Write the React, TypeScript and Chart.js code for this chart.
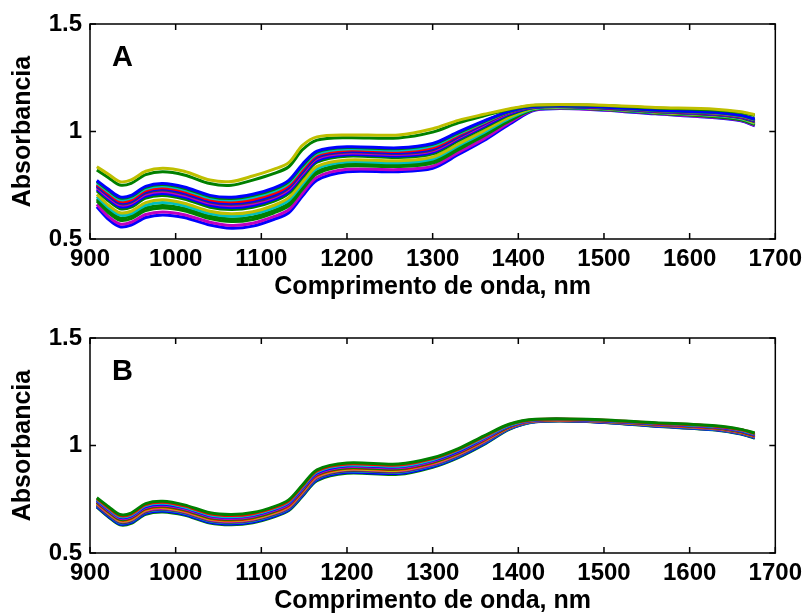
import React, { useEffect, useRef } from 'react';
import { Chart, registerables } from 'chart.js';

Chart.register(...registerables);

const FONT = "'Liberation Sans', Arial, Helvetica, sans-serif";

const BLUE = '#0000ff';
const GREEN = '#008000';
const RED = '#ff0000';
const CYAN = '#00bfbf';
const MAGENTA = '#bf00bf';
const OLIVE = '#bfbf00';
const GRAY = '#404040';

const X_TITLE = 'Comprimento de onda, nm';
const Y_TITLE = 'Absorbancia';
const X_TICKS = [900, 1000, 1100, 1200, 1300, 1400, 1500, 1600, 1700];
const Y_TICKS = [0.5, 1, 1.5];

const WAVELENGTH = [908, 922, 935, 948, 965, 985, 1010, 1040, 1065, 1090, 1115, 1132, 1148, 1165, 1200, 1260, 1300, 1330, 1360, 1390, 1420, 1480, 1560, 1630, 1660, 1676];

// Panel A (raw spectra)
const a01 = [0.836, 0.800, 0.767, 0.775, 0.815, 0.829, 0.815, 0.774, 0.767, 0.793, 0.825, 0.855, 0.935, 0.975, 0.984, 0.984, 1.013, 1.052, 1.080, 1.106, 1.123, 1.124, 1.112, 1.104, 1.092, 1.078];
const a02 = [0.821, 0.784, 0.751, 0.759, 0.799, 0.813, 0.798, 0.758, 0.750, 0.774, 0.805, 0.836, 0.915, 0.960, 0.971, 0.970, 0.997, 1.040, 1.073, 1.103, 1.122, 1.123, 1.109, 1.100, 1.088, 1.074];
const a03 = [0.772, 0.730, 0.696, 0.703, 0.745, 0.758, 0.742, 0.703, 0.694, 0.708, 0.738, 0.773, 0.848, 0.909, 0.929, 0.924, 0.944, 0.998, 1.049, 1.095, 1.117, 1.118, 1.100, 1.089, 1.075, 1.058];
const a04 = [0.768, 0.725, 0.691, 0.698, 0.740, 0.753, 0.736, 0.698, 0.688, 0.702, 0.731, 0.767, 0.841, 0.904, 0.925, 0.920, 0.940, 0.994, 1.046, 1.094, 1.117, 1.117, 1.099, 1.088, 1.074, 1.057];
const a05 = [0.761, 0.718, 0.683, 0.691, 0.733, 0.746, 0.729, 0.690, 0.681, 0.694, 0.723, 0.759, 0.833, 0.897, 0.919, 0.913, 0.933, 0.989, 1.043, 1.093, 1.116, 1.117, 1.098, 1.086, 1.072, 1.055];
const a06 = [0.754, 0.710, 0.675, 0.682, 0.725, 0.738, 0.721, 0.682, 0.673, 0.684, 0.713, 0.750, 0.823, 0.890, 0.913, 0.907, 0.925, 0.983, 1.040, 1.092, 1.116, 1.116, 1.097, 1.084, 1.070, 1.053];
const a07 = [0.749, 0.704, 0.669, 0.676, 0.719, 0.732, 0.714, 0.676, 0.666, 0.677, 0.705, 0.743, 0.815, 0.884, 0.908, 0.901, 0.919, 0.978, 1.037, 1.091, 1.115, 1.115, 1.096, 1.083, 1.069, 1.051];
const a08 = [0.745, 0.700, 0.665, 0.672, 0.715, 0.728, 0.710, 0.672, 0.662, 0.672, 0.700, 0.738, 0.810, 0.880, 0.905, 0.898, 0.915, 0.975, 1.035, 1.090, 1.115, 1.115, 1.095, 1.082, 1.068, 1.050];
const a09 = [0.739, 0.693, 0.659, 0.666, 0.708, 0.721, 0.703, 0.666, 0.655, 0.665, 0.694, 0.731, 0.803, 0.874, 0.899, 0.893, 0.910, 0.970, 1.030, 1.087, 1.114, 1.114, 1.094, 1.081, 1.067, 1.049];
const a10 = [0.732, 0.685, 0.650, 0.657, 0.699, 0.712, 0.695, 0.657, 0.646, 0.656, 0.685, 0.722, 0.795, 0.865, 0.892, 0.886, 0.903, 0.964, 1.024, 1.082, 1.113, 1.113, 1.093, 1.079, 1.065, 1.047];
const a11 = [0.724, 0.676, 0.641, 0.648, 0.690, 0.702, 0.686, 0.648, 0.637, 0.647, 0.676, 0.712, 0.786, 0.857, 0.885, 0.879, 0.896, 0.957, 1.018, 1.078, 1.112, 1.113, 1.092, 1.078, 1.064, 1.045];
const a12 = [0.707, 0.656, 0.622, 0.629, 0.669, 0.682, 0.666, 0.629, 0.617, 0.627, 0.657, 0.692, 0.766, 0.838, 0.868, 0.864, 0.881, 0.942, 1.004, 1.068, 1.109, 1.111, 1.090, 1.075, 1.061, 1.040];
const a13 = [0.697, 0.645, 0.611, 0.618, 0.657, 0.670, 0.655, 0.618, 0.606, 0.616, 0.646, 0.680, 0.755, 0.827, 0.859, 0.855, 0.872, 0.934, 0.996, 1.062, 1.107, 1.109, 1.088, 1.073, 1.059, 1.038];
const a14 = [0.686, 0.632, 0.598, 0.606, 0.644, 0.656, 0.642, 0.606, 0.593, 0.603, 0.633, 0.666, 0.742, 0.814, 0.848, 0.845, 0.862, 0.924, 0.987, 1.056, 1.106, 1.108, 1.087, 1.071, 1.057, 1.035];
const a15 = [0.677, 0.621, 0.587, 0.595, 0.632, 0.644, 0.631, 0.595, 0.581, 0.591, 0.622, 0.654, 0.731, 0.804, 0.839, 0.837, 0.853, 0.916, 0.980, 1.050, 1.104, 1.107, 1.086, 1.069, 1.055, 1.033];
const a16 = [0.661, 0.603, 0.570, 0.578, 0.614, 0.626, 0.613, 0.578, 0.563, 0.573, 0.605, 0.636, 0.713, 0.787, 0.824, 0.823, 0.839, 0.903, 0.967, 1.042, 1.102, 1.105, 1.084, 1.066, 1.052, 1.029];
const a17 = [0.650, 0.590, 0.557, 0.565, 0.600, 0.612, 0.600, 0.565, 0.550, 0.560, 0.592, 0.622, 0.700, 0.774, 0.813, 0.813, 0.829, 0.893, 0.958, 1.035, 1.100, 1.104, 1.082, 1.064, 1.050, 1.026];

const SERIES_A = [a01, a02, a03, a04, a05, a06, a07, a08, a09, a10, a11, a12, a13, a14, a15, a16, a17];
const COLORS_A = [OLIVE, GREEN, BLUE, GREEN, CYAN, RED, BLUE, GRAY, MAGENTA, BLUE, GREEN, OLIVE, CYAN, GREEN, GREEN, MAGENTA, BLUE];

// Panel B (corrected spectra)
const b01 = [0.757, 0.714, 0.679, 0.686, 0.730, 0.741, 0.724, 0.687, 0.679, 0.688, 0.716, 0.747, 0.816, 0.887, 0.919, 0.914, 0.943, 0.986, 1.045, 1.100, 1.122, 1.122, 1.106, 1.092, 1.075, 1.058];
const b02 = [0.753, 0.709, 0.674, 0.681, 0.725, 0.736, 0.719, 0.682, 0.674, 0.683, 0.711, 0.742, 0.811, 0.882, 0.914, 0.909, 0.939, 0.982, 1.041, 1.098, 1.121, 1.121, 1.104, 1.090, 1.073, 1.056];
const b03 = [0.748, 0.704, 0.669, 0.676, 0.720, 0.731, 0.714, 0.677, 0.669, 0.678, 0.706, 0.737, 0.806, 0.877, 0.909, 0.904, 0.934, 0.978, 1.037, 1.095, 1.120, 1.120, 1.103, 1.088, 1.071, 1.053];
const b04 = [0.745, 0.701, 0.666, 0.673, 0.716, 0.727, 0.711, 0.674, 0.666, 0.675, 0.703, 0.733, 0.802, 0.873, 0.906, 0.901, 0.931, 0.974, 1.034, 1.093, 1.119, 1.119, 1.102, 1.087, 1.069, 1.051];
const b05 = [0.741, 0.696, 0.661, 0.668, 0.711, 0.722, 0.706, 0.669, 0.661, 0.670, 0.698, 0.728, 0.797, 0.868, 0.901, 0.896, 0.927, 0.970, 1.030, 1.091, 1.118, 1.118, 1.100, 1.085, 1.067, 1.049];
const b06 = [0.737, 0.692, 0.657, 0.664, 0.708, 0.719, 0.702, 0.665, 0.657, 0.666, 0.694, 0.725, 0.793, 0.865, 0.897, 0.892, 0.923, 0.967, 1.027, 1.089, 1.117, 1.118, 1.099, 1.083, 1.065, 1.047];
const b07 = [0.734, 0.689, 0.654, 0.661, 0.704, 0.715, 0.699, 0.662, 0.654, 0.663, 0.691, 0.721, 0.789, 0.861, 0.894, 0.889, 0.920, 0.964, 1.024, 1.087, 1.116, 1.117, 1.098, 1.081, 1.063, 1.045];
const b08 = [0.731, 0.685, 0.650, 0.657, 0.700, 0.711, 0.695, 0.658, 0.650, 0.659, 0.687, 0.717, 0.785, 0.857, 0.890, 0.885, 0.917, 0.961, 1.021, 1.086, 1.115, 1.116, 1.096, 1.080, 1.062, 1.044];
const b09 = [0.727, 0.682, 0.647, 0.654, 0.696, 0.707, 0.692, 0.655, 0.647, 0.656, 0.684, 0.713, 0.781, 0.853, 0.887, 0.882, 0.913, 0.958, 1.018, 1.084, 1.114, 1.115, 1.095, 1.078, 1.060, 1.042];
const b10 = [0.724, 0.678, 0.643, 0.650, 0.692, 0.703, 0.688, 0.651, 0.643, 0.652, 0.680, 0.709, 0.777, 0.849, 0.883, 0.878, 0.910, 0.954, 1.015, 1.082, 1.113, 1.114, 1.094, 1.077, 1.058, 1.040];
const b11 = [0.722, 0.676, 0.641, 0.648, 0.690, 0.701, 0.686, 0.649, 0.641, 0.650, 0.678, 0.707, 0.774, 0.847, 0.881, 0.876, 0.908, 0.952, 1.013, 1.081, 1.112, 1.114, 1.093, 1.076, 1.057, 1.039];
const b12 = [0.720, 0.673, 0.638, 0.645, 0.687, 0.698, 0.683, 0.646, 0.638, 0.647, 0.675, 0.704, 0.772, 0.844, 0.878, 0.873, 0.906, 0.950, 1.011, 1.080, 1.112, 1.113, 1.092, 1.075, 1.056, 1.038];
const b13 = [0.716, 0.670, 0.635, 0.642, 0.684, 0.695, 0.680, 0.643, 0.635, 0.644, 0.672, 0.701, 0.768, 0.841, 0.875, 0.870, 0.902, 0.947, 1.008, 1.078, 1.111, 1.113, 1.091, 1.073, 1.055, 1.036];
const b14 = [0.713, 0.666, 0.631, 0.638, 0.680, 0.691, 0.676, 0.639, 0.631, 0.640, 0.668, 0.697, 0.764, 0.837, 0.871, 0.866, 0.899, 0.944, 1.005, 1.076, 1.110, 1.112, 1.090, 1.072, 1.053, 1.034];

const SERIES_B = [b01, b02, b03, b04, b05, b06, b07, b08, b09, b10, b11, b12, b13, b14];
const COLORS_B = [GREEN, RED, CYAN, BLUE, MAGENTA, GREEN, RED, OLIVE, MAGENTA, GRAY, CYAN, BLUE, BLUE, GREEN];

const framePlugin = {
  id: 'frame',
  afterDatasetsDraw(chart: any, _args: any, opts: any) {
    const { ctx, chartArea, scales } = chart;
    const { left, right, top, bottom } = chartArea;
    const x = scales.x;
    const y = scales.y;
    ctx.save();
    ctx.strokeStyle = '#000';
    ctx.lineWidth = 1.5;
    ctx.strokeRect(left, top, right - left, bottom - top);
    ctx.beginPath();
    for (const v of X_TICKS) {
      const px = x.getPixelForValue(v);
      ctx.moveTo(px, bottom);
      ctx.lineTo(px, bottom - 6);
      ctx.moveTo(px, top);
      ctx.lineTo(px, top + 6);
    }
    for (const v of Y_TICKS) {
      const py = y.getPixelForValue(v);
      ctx.moveTo(left, py);
      ctx.lineTo(left + 6, py);
      ctx.moveTo(right, py);
      ctx.lineTo(right - 6, py);
    }
    ctx.stroke();
    if (opts && opts.letter) {
      ctx.fillStyle = '#000';
      ctx.font = `bold 29px ${FONT}`;
      ctx.textAlign = 'left';
      ctx.textBaseline = 'alphabetic';
      ctx.fillText(opts.letter, left + 22, top + 42);
    }
    ctx.restore();
  },
};

type PanelProps = {
  series: number[][];
  colors: string[];
  letter: string;
  top: number;
  padTop: number;
  axisHeight: number;
  titlePadBottom: number;
};

function Panel({ series, colors, letter, top, padTop, axisHeight, titlePadBottom }: PanelProps) {
  const ref = useRef<HTMLCanvasElement>(null);
  useEffect(() => {
    const datasets = series.map((s, i) => ({
      label: `${letter}${i + 1}`,
      data: WAVELENGTH.map((w, j) => ({ x: w, y: s[j] })),
      borderColor: colors[i],
      backgroundColor: colors[i],
      borderWidth: 3,
      pointRadius: 0,
      tension: 0.3,
      borderJoinStyle: 'round' as const,
      fill: false,
    }));
    const chart = new Chart(ref.current as HTMLCanvasElement, {
      type: 'line',
      data: { datasets },
      options: {
        animation: false,
        responsive: false,
        devicePixelRatio: 1,
        events: [],
        layout: { padding: { top: padTop, right: 32, bottom: 0, left: 0 } },
        plugins: {
          legend: { display: false },
          tooltip: { enabled: false },
          // @ts-ignore
          frame: { letter },
        },
        scales: {
          x: {
            type: 'linear',
            min: 900,
            max: 1700,
            afterFit: (scale: any) => {
              scale.height = axisHeight;
            },
            afterBuildTicks: (scale: any) => {
              scale.ticks = X_TICKS.map((v) => ({ value: v }));
            },
            ticks: {
              autoSkip: false,
              maxRotation: 0,
              padding: 6,
              color: '#000',
              font: { family: FONT, size: 24, weight: 'bold' },
              callback: (v: any) => String(v),
            },
            grid: { display: false, drawTicks: false },
            border: { display: false },
            title: {
              display: true,
              text: X_TITLE,
              color: '#000',
              font: { family: FONT, size: 25, weight: 'bold' },
              padding: { top: 0, bottom: titlePadBottom },
            },
          },
          y: {
            type: 'linear',
            min: 0.5,
            max: 1.5,
            afterFit: (scale: any) => {
              scale.width = 90;
            },
            afterBuildTicks: (scale: any) => {
              scale.ticks = Y_TICKS.map((v) => ({ value: v }));
            },
            ticks: {
              padding: 8,
              color: '#000',
              font: { family: FONT, size: 24, weight: 'bold' },
              callback: (v: any) => String(v),
            },
            grid: { display: false, drawTicks: false },
            border: { display: false },
            title: {
              display: true,
              text: Y_TITLE,
              color: '#000',
              font: { family: FONT, size: 25, weight: 'bold' },
              padding: { top: 8, bottom: 0 },
            },
          },
        },
      } as any,
      plugins: [framePlugin],
    });
    return () => chart.destroy();
  }, []);
  return (
    <canvas
      ref={ref}
      width={808}
      height={308}
      style={{ position: 'absolute', left: 0, top, width: 808, height: 308, display: 'block' }}
    />
  );
}

export default function App() {
  return (
    <div style={{ position: 'absolute', left: 0, top: 0, width: 808, height: 616, background: '#fff' }}>
      <Panel series={SERIES_A} colors={COLORS_A} letter="A" top={0} padTop={24} axisHeight={69} titlePadBottom={6} />
      <Panel series={SERIES_B} colors={COLORS_B} letter="B" top={308} padTop={30} axisHeight={63} titlePadBottom={0} />
    </div>
  );
}
